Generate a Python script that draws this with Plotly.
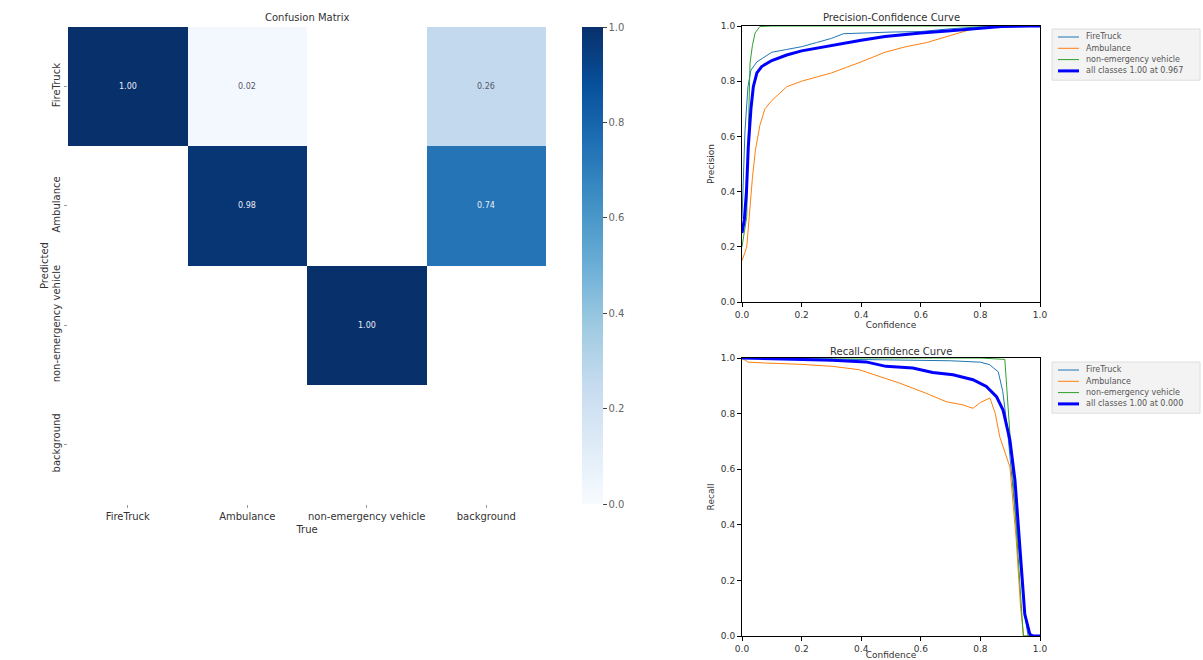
import plotly.graph_objects as go

# ---------------- confusion matrix data ----------------
classes = ["FireTruck", "Ambulance", "non-emergency vehicle", "background"]
# rows = predicted, columns = true; None = empty cell
cm_firetruck = [1.00, 0.02, None, 0.26]
cm_ambulance = [None, 0.98, None, 0.74]
cm_nonemerg = [None, None, 1.00, None]
cm_background = [None, None, None, None]
cbar_ticks = [0.0, 0.2, 0.4, 0.6, 0.8, 1.0]

# ---------------- precision-confidence curves ----------------
p_fire_x = [0.0, 0.005, 0.01, 0.02, 0.03, 0.05, 0.07, 0.1, 0.15, 0.2, 0.25, 0.3, 0.34, 0.4, 0.5, 0.6, 0.7, 0.8, 0.9, 1.0]
p_fire_y = [0.3, 0.45, 0.62, 0.78, 0.84, 0.87, 0.885, 0.905, 0.915, 0.925, 0.94, 0.955, 0.972, 0.975, 0.978, 0.98, 0.99, 0.997, 1.0, 1.0]
p_amb_x = [0.0, 0.005, 0.01, 0.016, 0.025, 0.035, 0.045, 0.06, 0.077, 0.1, 0.15, 0.2, 0.25, 0.3, 0.35, 0.4, 0.48, 0.55, 0.62, 0.7, 0.76, 0.82, 0.9, 1.0]
p_amb_y = [0.15, 0.17, 0.18, 0.2, 0.32, 0.45, 0.55, 0.64, 0.7, 0.73, 0.78, 0.8, 0.815, 0.83, 0.85, 0.87, 0.905, 0.925, 0.94, 0.965, 0.985, 0.998, 1.0, 1.0]
p_non_x = [0.0, 0.01, 0.016, 0.02, 0.024, 0.027, 0.035, 0.044, 0.06, 0.1, 1.0]
p_non_y = [0.2, 0.27, 0.31, 0.56, 0.75, 0.866, 0.93, 0.975, 0.998, 1.0, 1.0]
p_all_x = [0.0, 0.008, 0.015, 0.021, 0.03, 0.038, 0.05, 0.066, 0.1, 0.15, 0.2, 0.3, 0.4, 0.48, 0.6, 0.7, 0.8, 0.87, 0.967, 1.0]
p_all_y = [0.25, 0.3, 0.4, 0.56, 0.7, 0.78, 0.83, 0.853, 0.875, 0.895, 0.91, 0.93, 0.948, 0.962, 0.975, 0.983, 0.992, 0.998, 1.0, 1.0]

# ---------------- recall-confidence curves ----------------
r_fire_x = [0.0, 0.1, 0.3, 0.5, 0.7, 0.8, 0.831, 0.86, 0.875, 0.89, 0.91, 0.93, 0.95, 0.96, 1.0]
r_fire_y = [1.0, 0.998, 0.996, 0.993, 0.99, 0.985, 0.976, 0.95, 0.88, 0.75, 0.52, 0.3, 0.07, 0.0, 0.0]
r_amb_x = [0.0, 0.02, 0.079, 0.2, 0.303, 0.393, 0.46, 0.528, 0.618, 0.685, 0.742, 0.775, 0.8, 0.832, 0.85, 0.865, 0.899, 0.92, 0.935, 0.945, 1.0]
r_amb_y = [1.0, 0.985, 0.982, 0.977, 0.97, 0.958, 0.934, 0.91, 0.873, 0.843, 0.831, 0.819, 0.84, 0.856, 0.8, 0.716, 0.608, 0.35, 0.1, 0.0, 0.0]
r_non_x = [0.0, 0.3, 0.6, 0.8, 0.882, 0.899, 0.921, 0.944, 1.0]
r_non_y = [1.0, 1.0, 1.0, 1.0, 0.995, 0.741, 0.38, 0.0, 0.0]
r_all_x = [0.0, 0.15, 0.303, 0.416, 0.483, 0.573, 0.64, 0.708, 0.775, 0.82, 0.854, 0.876, 0.899, 0.916, 0.933, 0.949, 0.966, 0.977, 1.0]
r_all_y = [1.0, 0.997, 0.992, 0.986, 0.970, 0.964, 0.948, 0.94, 0.922, 0.898, 0.861, 0.813, 0.705, 0.56, 0.319, 0.078, 0.006, 0.0, 0.0]

curve_ticks = [0.0, 0.2, 0.4, 0.6, 0.8, 1.0]
series_names = ["FireTruck", "Ambulance", "non-emergency vehicle"]
pr_all_label = "all classes 1.00 at 0.967"
rc_all_label = "all classes 1.00 at 0.000"

FONT = "DejaVu Sans"
TXT = "#333333"
C_FIRE = "#1f77b4"
C_AMB = "#ff7f0e"
C_NON = "#2ca02c"
C_ALL = "#0000ff"
W, H = 1203, 660

blues = [
    [0.0, "rgb(247,251,255)"], [0.125, "rgb(222,235,247)"], [0.25, "rgb(198,219,239)"],
    [0.375, "rgb(158,202,225)"], [0.5, "rgb(107,174,214)"], [0.625, "rgb(66,146,198)"],
    [0.75, "rgb(33,113,181)"], [0.875, "rgb(8,81,156)"], [1.0, "rgb(8,48,107)"],
]

fig = go.Figure()

cm_rows = [cm_firetruck, cm_ambulance, cm_nonemerg, cm_background]
fig.add_trace(go.Heatmap(
    z=cm_rows, x=classes, y=classes, zmin=0, zmax=1,
    colorscale=blues, xgap=0, ygap=0, hoverongaps=False,
    xaxis="x", yaxis="y",
    colorbar=dict(
        x=582 / W, xanchor="left", xpad=0, ypad=0, y=1 - 27 / H, yanchor="top",
        len=477 / H, lenmode="fraction", thickness=21, outlinewidth=0,
        ticks="outside", ticklen=4, tickvals=cbar_ticks,
        ticktext=[f"{v:.1f}" for v in cbar_ticks],
        tickfont=dict(family=FONT, size=10, color="#666"),
    ),
))

# value labels on non-empty cells
for ri, row in enumerate(cm_rows):
    for ci, v in enumerate(row):
        if v is None:
            continue
        fig.add_annotation(
            x=classes[ci], y=classes[ri], xref="x", yref="y", text=f"{v:.2f}",
            showarrow=False,
            font=dict(family=FONT, size=8, color="#e8eef8" if v > 0.5 else "#556"),
        )


def curve(xs, ys, name, color, width, xa, ya):
    return go.Scatter(
        x=xs, y=ys, mode="lines", name=name, line=dict(color=color, width=width),
        xaxis=xa, yaxis=ya, showlegend=False,
    )


fig.add_trace(curve(p_fire_x, p_fire_y, series_names[0], C_FIRE, 1, "x2", "y2"))
fig.add_trace(curve(p_amb_x, p_amb_y, series_names[1], C_AMB, 1, "x2", "y2"))
fig.add_trace(curve(p_non_x, p_non_y, series_names[2], C_NON, 1, "x2", "y2"))
fig.add_trace(curve(p_all_x, p_all_y, pr_all_label, C_ALL, 3, "x2", "y2"))

fig.add_trace(curve(r_fire_x, r_fire_y, series_names[0], C_FIRE, 1, "x3", "y3"))
fig.add_trace(curve(r_amb_x, r_amb_y, series_names[1], C_AMB, 1, "x3", "y3"))
fig.add_trace(curve(r_non_x, r_non_y, series_names[2], C_NON, 1, "x3", "y3"))
fig.add_trace(curve(r_all_x, r_all_y, rc_all_label, C_ALL, 3, "x3", "y3"))


# compact matplotlib-style legend boxes (pixel positions converted to paper fractions)
def px(x):
    return x / W


def py(y):
    return 1 - y / H


def legend_box(top, labels, colors, widths, step=11.3):
    bottom = top + step * len(labels) + 6
    fig.add_shape(type="rect", xref="paper", yref="paper",
                  x0=px(1052), x1=px(1200), y0=py(bottom), y1=py(top),
                  fillcolor="rgba(242,242,242,0.9)", line=dict(color="#dedede", width=1),
                  layer="above")
    for i, (lab, col, wd) in enumerate(zip(labels, colors, widths)):
        yy = top + 8 + i * step
        fig.add_shape(type="line", xref="paper", yref="paper",
                      x0=px(1058), x1=px(1079), y0=py(yy), y1=py(yy),
                      line=dict(color=col, width=wd), layer="above")
        fig.add_annotation(text=lab, x=px(1084), y=py(yy), xref="paper", yref="paper",
                           showarrow=False, xanchor="left", yanchor="middle",
                           font=dict(family=FONT, size=8, color="#555"))


legend_box(29, series_names + [pr_all_label], [C_FIRE, C_AMB, C_NON, C_ALL], [1, 1, 1, 3])
legend_box(362, series_names + [rc_all_label], [C_FIRE, C_AMB, C_NON, C_ALL], [1, 1, 1, 3])

tickfont = dict(family=FONT, size=9, color=TXT)
curve_axis = dict(
    range=[0, 1], showline=True, linecolor="black", linewidth=1, mirror=True,
    ticks="outside", ticklen=4, tickcolor="black", tickvals=curve_ticks,
    ticktext=[f"{v:.1f}" for v in curve_ticks], tickfont=tickfont,
    showgrid=False, zeroline=False, automargin=False,
)

fig.update_layout(
    width=W, height=H, margin=dict(l=0, r=0, t=0, b=0, autoexpand=False),
    paper_bgcolor="white", plot_bgcolor="white",
    font=dict(family=FONT, color=TXT),
    xaxis=dict(
        domain=[68 / W, 546 / W], type="category", showgrid=False, zeroline=False,
        ticks="outside", ticklen=3, tickcolor="#999", tickfont=dict(family=FONT, size=10, color=TXT),
        title=dict(text="True", font=dict(family=FONT, size=10, color=TXT), standoff=4),
        showline=False, anchor="y", automargin=False,
    ),
    yaxis=dict(
        domain=[1 - 504 / H, 1 - 27 / H], type="category", autorange="reversed",
        showgrid=False, zeroline=False, ticks="outside", ticklen=3, tickcolor="#999",
        tickangle=-90, tickfont=dict(family=FONT, size=10, color=TXT),
        title=dict(text="Predicted", font=dict(family=FONT, size=10, color=TXT), standoff=0),
        showline=False, anchor="x", automargin=False,
    ),
    xaxis2=dict(curve_axis, domain=[742 / W, 1040 / W], anchor="y2",
                title=dict(text="Confidence", font=dict(family=FONT, size=9, color=TXT), standoff=2)),
    yaxis2=dict(curve_axis, domain=[1 - 302 / H, 1 - 26 / H], anchor="x2",
                title=dict(text="Precision", font=dict(family=FONT, size=9, color=TXT), standoff=4)),
    xaxis3=dict(curve_axis, domain=[742 / W, 1040 / W], anchor="y3",
                title=dict(text="Confidence", font=dict(family=FONT, size=9, color=TXT), standoff=2)),
    yaxis3=dict(curve_axis, domain=[1 - 636 / H, 1 - 358 / H], anchor="x3",
                title=dict(text="Recall", font=dict(family=FONT, size=9, color=TXT), standoff=4)),
)

titles = [
    ("Confusion Matrix", 307 / W, 1 - 18 / H),
    ("Precision-Confidence Curve", 891 / W, 1 - 18 / H),
    ("Recall-Confidence Curve", 891 / W, 1 - 351 / H),
]
for text, x, y in titles:
    fig.add_annotation(text=text, x=x, y=y, xref="paper", yref="paper", showarrow=False,
                       font=dict(family=FONT, size=10, color=TXT), xanchor="center", yanchor="middle")

fig.write_html("out.html")
